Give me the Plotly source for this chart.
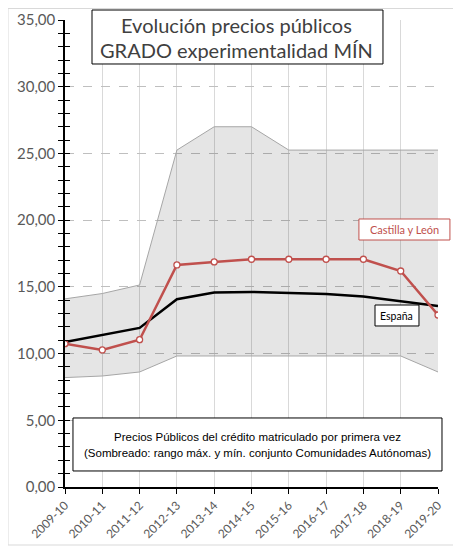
import plotly.graph_objects as go

cursos = ["2009-10", "2010-11", "2011-12", "2012-13", "2013-14", "2014-15",
          "2015-16", "2016-17", "2017-18", "2018-19", "2019-20"]
maximo = [14.10, 14.50, 15.14, 25.25, 27.00, 27.00, 25.25, 25.25, 25.25, 25.25, 25.25]
minimo = [8.20, 8.32, 8.62, 9.82, 9.82, 9.82, 9.82, 9.82, 9.82, 9.82, 8.62]
castilla_leon = [10.74, 10.27, 11.04, 16.64, 16.87, 17.07, 17.07, 17.07, 17.07, 16.19, 12.89]
espana = [10.87, 11.40, 11.92, 14.07, 14.57, 14.62, 14.52, 14.47, 14.27, 13.94, 13.57]

titulo = ["Evolución precios públicos", "GRADO experimentalidad MÍN"]
nota = ["Precios Públicos del crédito matriculado por primera vez",
        "(Sombreado: rango máx. y mín. conjunto Comunidades Autónomas)"]

fig = go.Figure()
fig.add_trace(go.Scatter(x=cursos, y=maximo, mode="lines",
                         line=dict(color="#A6A6A6", width=1), showlegend=False,
                         hoverinfo="skip"))
fig.add_trace(go.Scatter(x=cursos, y=minimo, mode="lines", fill="tonexty",
                         fillcolor="rgba(0,0,0,0.10)",
                         line=dict(color="#A6A6A6", width=1), showlegend=False,
                         hoverinfo="skip"))
fig.add_trace(go.Scatter(x=cursos, y=espana, mode="lines",
                         line=dict(color="#000000", width=2.5), showlegend=False))
fig.add_trace(go.Scatter(x=cursos, y=castilla_leon, mode="lines+markers",
                         line=dict(color="#C0504D", width=2.5),
                         marker=dict(symbol="circle", size=6, color="white",
                                     line=dict(color="#C0504D", width=1.3)),
                         showlegend=False))
fig.add_trace(go.Scatter(x=[cursos[0]], y=[0], yaxis="y2", mode="markers",
                         marker=dict(opacity=0), showlegend=False, hoverinfo="skip"))

fig.update_layout(
    width=453, height=538,
    margin=dict(l=57, r=23, t=12, b=59, autoexpand=False),
    paper_bgcolor="white", plot_bgcolor="white",
    separators=",.",
    font=dict(family="Lato, Arial, sans-serif", color="#595959"),
    xaxis=dict(type="category", range=[0, 10], showgrid=True, gridcolor="#D9D9D9",
               gridwidth=1, showline=True, linecolor="#000000", linewidth=1.5,
               ticks="outside", ticklen=5, tickcolor="#000000", tickangle=-45,
               tickfont=dict(family="Lato, sans-serif", size=12, color="#595959"),
               zeroline=False, automargin=False),
    yaxis=dict(range=[0, 35], dtick=5, tickformat=".2f", showgrid=True,
               gridcolor="#BFBFBF", griddash="dash", gridwidth=1,
               showline=True, linecolor="#000000", linewidth=1.5,
               ticks="outside", ticklen=5, tickcolor="#000000",
               minor=dict(dtick=1, ticks="outside", ticklen=5, tickcolor="#000000",
                          showgrid=False),
               tickfont=dict(family="Lato, sans-serif", size=15, color="#595959"),
               zeroline=False, automargin=False),
    yaxis2=dict(range=[0, 35], dtick=5, overlaying="y", side="left",
                showgrid=False, showticklabels=False, ticks="inside", ticklen=5,
                tickcolor="#000000", showline=False, zeroline=False,
                minor=dict(dtick=1, ticks="inside", ticklen=5, tickcolor="#000000")),
)

# outer frame
fig.add_shape(type="rect", xref="paper", yref="paper", x0=-0.1528, x1=1.048,
              y0=-0.1242, y1=1.0246, line=dict(color="#D9D9D9", width=1), layer="below")

# title box
fig.add_shape(type="rect", xref="paper", yref="paper", x0=0.0724, x1=0.8525,
              y0=0.9058, y1=1.0214, line=dict(color="#000000", width=1),
              fillcolor="white", layer="above")
for txt, yy in zip(titulo, [0.990, 0.935]):
    fig.add_annotation(xref="paper", yref="paper", x=0.461, y=yy, yanchor="middle",
                       xanchor="center", text=txt, showarrow=False,
                       font=dict(family="Lato, sans-serif", size=20, color="#404040"))

# Castilla y León label
fig.add_shape(type="rect", xref="paper", yref="paper", x0=0.788, x1=1.032,
              y0=0.5289, y1=0.5739, line=dict(color="#C0504D", width=1),
              fillcolor="white", layer="above")
fig.add_annotation(xref="paper", yref="paper", x=0.910, y=0.5514, xanchor="center",
                   yanchor="middle", text="Castilla y León", showarrow=False,
                   font=dict(family="Lato, sans-serif", size=11, color="#C0504D"))

# España label
fig.add_shape(type="rect", xref="paper", yref="paper", x0=0.8311, x1=0.949,
              y0=0.3448, y1=0.3897, line=dict(color="#000000", width=1),
              fillcolor="white", layer="above")
fig.add_annotation(xref="paper", yref="paper", x=0.890, y=0.3672, xanchor="center",
                   yanchor="middle", text="España", showarrow=False,
                   font=dict(family="Lato, sans-serif", size=10.5, color="#000000"))

# note box
fig.add_shape(type="rect", xref="paper", yref="paper", x0=0.0214, x1=1.0107,
              y0=0.0343, y1=0.1478, line=dict(color="#000000", width=1),
              fillcolor="white", layer="above")
for txt, yy in zip(nota, [0.1071, 0.0735]):
    fig.add_annotation(xref="paper", yref="paper", x=0.516, y=yy, xanchor="center",
                       yanchor="middle", text=txt, showarrow=False,
                       font=dict(family="Arial, sans-serif", size=11.5, color="#000000"))

fig.write_html("out.html")
